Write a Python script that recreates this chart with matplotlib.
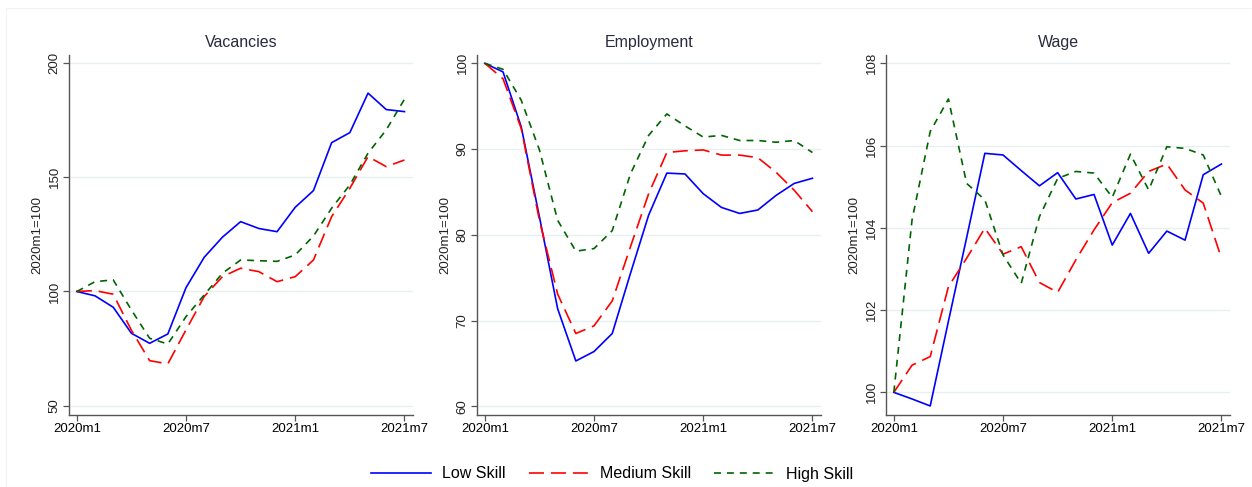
import matplotlib
matplotlib.use("Agg")
import matplotlib.pyplot as plt
from matplotlib.lines import Line2D
from matplotlib.patches import Rectangle

plt.rcParams['font.family'] = ['Liberation Sans', 'DejaVu Sans']
plt.rcParams['lines.scale_dashes'] = False

months = list(range(19))
tick_pos = [0, 6, 12, 18]
tick_labels = ['2020m1', '2020m7', '2021m1', '2021m7']

vac_low = [100, 98.1, 93.1, 81.7, 77.3, 81.4, 101.7, 115.0, 123.8, 130.6, 127.6, 126.2,
           136.9, 144.2, 165.2, 169.6, 186.9, 179.7, 178.8]
vac_med = [100, 100.4, 98.8, 83.0, 69.7, 68.3, 83.2, 97.8, 106.5, 110.2, 108.7, 104.3,
           106.5, 113.8, 132.8, 145.2, 159.1, 154.7, 157.6]
vac_high = [100, 104.3, 105.1, 91.9, 79.5, 77.0, 89.0, 98.5, 108.0, 113.8, 113.5, 113.2,
            116.0, 124.3, 136.5, 146.7, 160.6, 170.8, 184.2]

emp_low = [100, 99.0, 92.6, 82.1, 71.4, 65.3, 66.4, 68.5, 75.5, 82.3, 87.2, 87.1,
           84.8, 83.2, 82.5, 82.9, 84.6, 86.0, 86.6]
emp_med = [100, 98.2, 92.4, 81.7, 73.1, 68.5, 69.4, 72.3, 78.6, 84.8, 89.6, 89.8,
           89.9, 89.3, 89.3, 89.0, 87.3, 85.2, 82.7]
emp_high = [100, 99.3, 95.7, 89.9, 81.7, 78.1, 78.4, 80.5, 87.1, 91.6, 94.1, 92.7,
            91.4, 91.6, 91.0, 91.0, 90.8, 91.0, 89.6]

wage_low = [100, 99.84, 99.67, 101.73, 103.76, 105.81, 105.77, 105.39, 105.02, 105.34,
            104.70, 104.81, 103.58, 104.35, 103.38, 103.92, 103.70, 105.29, 105.55]
wage_med = [100, 100.66, 100.87, 102.57, 103.26, 103.99, 103.36, 103.54, 102.67, 102.43,
            103.22, 103.95, 104.61, 104.84, 105.37, 105.55, 104.92, 104.60, 103.26]
wage_high = [100, 104.19, 106.34, 107.13, 105.08, 104.68, 103.34, 102.65, 104.27, 105.20,
             105.37, 105.33, 104.74, 105.79, 104.92, 105.97, 105.93, 105.77, 104.76]

panels = [
    ('Vacancies', vac_low, vac_med, vac_high, [50, 100, 150, 200], (45.9, 203.6)),
    ('Employment', emp_low, emp_med, emp_high, [60, 70, 80, 90, 100], (59.0, 100.97)),
    ('Wage', wage_low, wage_med, wage_high, [100, 102, 104, 106, 108], (99.45, 108.2)),
]

styles = {
    'low': dict(color='#0000ff', lw=1.2, linestyle='-'),
    'med': dict(color='#ff0000', lw=1.2, linestyle=(0, (10.8, 5.0))),
    'high': dict(color='#006400', lw=1.2, linestyle=(0, (5.0, 4.3))),
}

W, H = 1252, 487
fig = plt.figure(figsize=(W / 100, H / 100), dpi=100)

# faint outer frame of the graph region
fig.patches.append(Rectangle((6 / W, 0), 1 - 6 / W, 1 - 8 / H, transform=fig.transFigure,
                             fill=False, edgecolor='#f1f3f3', lw=0.8))

lefts = [69, 477, 886]
axw = 344
top, bottom = 55, 415

for left, (title, low, med, high, yticks, ylim) in zip(lefts, panels):
    ax = fig.add_axes([left / W, 1 - bottom / H, axw / W, (bottom - top) / H])
    ax.plot(months, low, **styles['low'])
    ax.plot(months, med, **styles['med'])
    ax.plot(months, high, **styles['high'])
    ax.set_xlim(-0.43, 18.47)
    ax.set_ylim(*ylim)
    ax.set_yticks(yticks)
    ax.set_yticklabels([str(v) for v in yticks], rotation=90, va='center',
                       fontsize=9.5, color='#222222')
    ax.set_xticks(tick_pos)
    ax.set_xticklabels(tick_labels, fontsize=9.5, color='#000000')
    ax.grid(axis='y', color='#e6f0f2', lw=1.0)
    ax.set_axisbelow(True)
    for side in ('top', 'right'):
        ax.spines[side].set_visible(False)
    for side in ('left', 'bottom'):
        ax.spines[side].set_color('#555555')
        ax.spines[side].set_linewidth(1.0)
    ax.tick_params(axis='both', direction='out', length=4, width=0.9, color='#555555', pad=2)
    ax.set_ylabel('2020m1=100', fontsize=9.5, color='#222222', labelpad=4)
    ax.set_title(title, fontsize=11.5, color='#2a2a40', pad=6)

handles = [
    Line2D([], [], **styles['low']),
    Line2D([], [], **styles['med']),
    Line2D([], [], **styles['high']),
]
fig.legend(handles, ['Low Skill', 'Medium Skill', 'High Skill'], loc='center',
           bbox_to_anchor=(612 / W, 1 - 474 / H), ncol=3, frameon=False, fontsize=11.5,
           handlelength=3.75, columnspacing=1.45, handletextpad=0.7)

fig.savefig('out.png', dpi=100, facecolor='white')
